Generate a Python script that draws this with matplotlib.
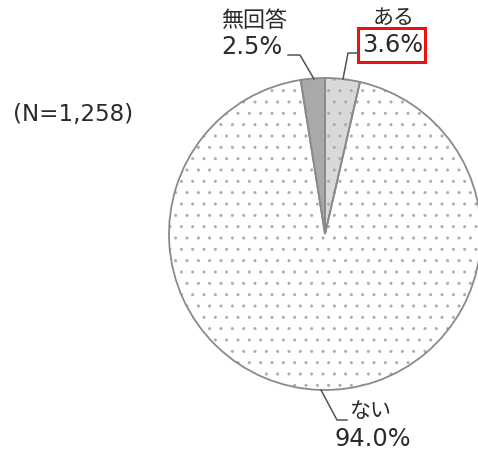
import matplotlib
matplotlib.use("Agg")
import matplotlib.pyplot as plt
from matplotlib.patches import Rectangle

plt.rcParams['font.family'] = ['DejaVu Sans', 'Noto Sans CJK JP']
plt.rcParams['hatch.linewidth'] = 0.4

# data
categories = ['ある', 'ない', '無回答']
values = [3.6, 94.0, 2.5]
value_labels = ['3.6%', '94.0%', '2.5%']
colors = ['#d9d9d9', '#ffffff', '#a9a9a9']
n_label = '(N=1,258)'

DPI = 136
W, H = 478, 452
fig = plt.figure(figsize=(W / DPI, H / DPI), dpi=DPI)
ax = fig.add_axes([0, 0, 1, 1])

def pt(px):
    return px * 72 / DPI

def Y(y):
    return H - y

center = (325, Y(234))
radius = 156
# fill + dotted texture
wedges, _ = ax.pie(values, colors=colors, startangle=90, counterclock=False,
                   center=center, radius=radius, normalize=True,
                   wedgeprops=dict(edgecolor='#ababab', linewidth=0),
                   frame=True)
for w in wedges:
    w.set_hatch('..')
# outlines
ax.pie(values, startangle=90, counterclock=False,
       center=center, radius=radius, normalize=True,
       wedgeprops=dict(fill=False, edgecolor='#8a8a8a', linewidth=pt(1.8)),
       frame=True)
ax.set_xlim(0, W)
ax.set_ylim(0, H)
ax.set_aspect('equal')
ax.axis('off')

txt = '#2a2a2a'
lead = '#505050'
# ある
ax.text(394, Y(18), categories[0], ha='center', va='center', fontsize=pt(21), color=txt)
ax.text(393, Y(45), value_labels[0], ha='center', va='center', fontsize=pt(24), color=txt)
ax.add_patch(Rectangle((358, Y(62)), 67, 34, fill=False, edgecolor='#ee1111', linewidth=pt(3)))
ax.plot([358, 348, 343], [Y(53), Y(53), Y(79)], color=lead, linewidth=pt(1.5))
# 無回答
ax.text(254, Y(21), categories[2], ha='center', va='center', fontsize=pt(22), color=txt)
ax.text(252, Y(47), value_labels[2], ha='center', va='center', fontsize=pt(24), color=txt)
ax.plot([288, 300, 314], [Y(55), Y(55), Y(79)], color=lead, linewidth=pt(1.5))
# ない
ax.text(371, Y(411), categories[1], ha='center', va='center', fontsize=pt(21), color=txt)
ax.text(373, Y(439), value_labels[1], ha='center', va='center', fontsize=pt(24), color=txt)
ax.plot([321, 337, 347], [Y(390), Y(420), Y(420)], color=lead, linewidth=pt(1.5))

ax.text(73, Y(114), n_label, ha='center', va='center', fontsize=pt(23), color=txt)

fig.savefig('out.png', dpi=DPI)
